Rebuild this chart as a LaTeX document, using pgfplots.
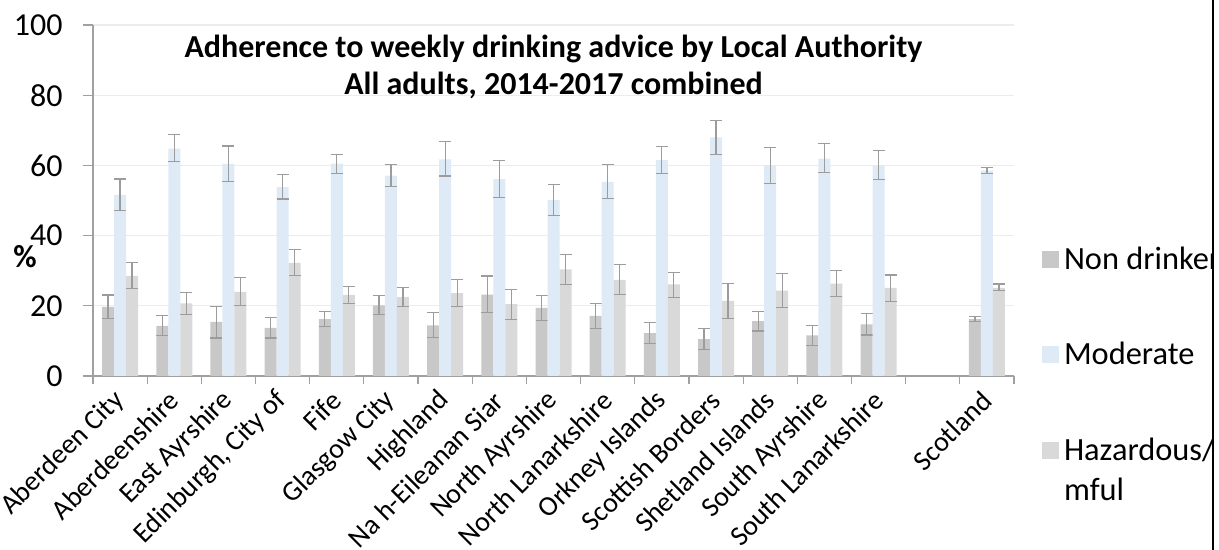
\documentclass[border=0pt]{standalone}
\usepackage{fontspec}
\setmainfont{Carlito}
\usepackage{pgfplots}
\pgfplotsset{compat=1.18}
\usepackage{pgfplotstable}
\definecolor{ndc}{HTML}{C8C8C8}
\definecolor{modc}{HTML}{DEEAF6}
\definecolor{hazc}{HTML}{D9D9D9}
\definecolor{errc}{HTML}{9C9C9C}
\definecolor{axc}{HTML}{A0A0A0}
\definecolor{gridc}{HTML}{ECECEC}

\pgfplotstableread{
x y ep em
0 19.7 3.4 3.3
1 14.3 3.0 2.7
2 15.4 4.5 4.6
3 13.7 3.0 2.9
4 16.2 2.2 2.0
5 20.1 2.8 2.5
6 14.4 3.7 3.5
7 23.2 5.3 5.1
8 19.4 3.5 3.5
9 17.1 3.6 3.5
10 12.2 3.1 2.9
11 10.5 3.1 2.9
12 15.6 2.8 2.8
13 11.6 2.8 2.9
14 14.7 3.1 3.0
16 16.2 0.7 0.6
}\nd

\pgfplotstableread{
x y ep em
0 51.6 4.5 4.4
1 64.8 4.0 3.8
2 60.4 5.1 4.9
3 53.8 3.6 3.4
4 60.5 2.7 2.7
5 57.1 3.2 3.1
6 61.7 5.0 4.7
7 56.1 5.4 5.2
8 50.1 4.4 4.3
9 55.3 4.9 4.7
10 61.5 3.9 3.7
11 68.0 4.9 5.0
12 60.0 5.2 5.1
13 61.9 4.3 4.0
14 60.0 4.3 4.0
16 58.5 1.0 0.9
}\modt

\pgfplotstableread{
x y ep em
0 28.5 3.8 3.6
1 20.7 3.1 3.1
2 24.0 4.1 3.9
3 32.2 3.8 3.6
4 23.1 2.3 2.4
5 22.5 2.8 2.7
6 23.6 3.8 3.8
7 20.5 4.2 4.3
8 30.4 4.3 4.3
9 27.4 4.3 4.1
10 26.1 3.4 3.7
11 21.4 4.9 5.0
12 24.3 4.8 4.7
13 26.3 3.7 3.6
14 25.1 3.7 3.8
16 25.1 1.1 0.8
}\haz

\begin{document}
\begin{tikzpicture}
\begin{scope}
\clip (0,0) rectangle (606.5pt,275pt);
\begin{axis}[
  at={(46.5pt,87pt)}, anchor=south west,
  scale only axis, width=460.5pt, height=175.5pt,
  xmin=-0.5, xmax=16.5, ymin=0, ymax=100,
  clip=false,
  ybar, bar width=6pt,
  axis x line*=bottom, axis y line*=left,
  axis line style={draw=axc, line width=0.6pt},
  ytick={0,20,...,100},
  ymajorgrids, grid style={draw=gridc, line width=0.6pt},
  tick align=outside,
  major tick length=5pt, minor tick length=4pt,
  ytick style={draw=axc, line width=0.6pt},
  xtick={0,...,14,16},
  xticklabels={Aberdeen City, Aberdeenshire, East Ayrshire, {Edinburgh, City of}, Fife, Glasgow City, Highland, Na h-Eileanan Siar, North Ayrshire, North Lanarkshire, Orkney Islands, Scottish Borders, Shetland Islands, South Ayrshire, South Lanarkshire, Scotland},
  major x tick style={draw=none},
  minor xtick={-0.5,0.5,...,16.5},
  minor x tick style={draw=axc, line width=0.6pt},
  /pgf/number format/assume math mode=true,
  yticklabel style={font=\fontsize{16}{18}\selectfont, anchor=east, inner sep=0pt},
  yticklabel shift=10pt,
  xticklabel style={font=\fontsize{14}{16}\selectfont, rotate=45, anchor=east, inner sep=0pt},
  xticklabel shift=5pt,
  legend image code/.code={\fill[#1] (0pt,-4.25pt) rectangle (8.5pt,4.25pt);},
  legend style={at={(1.030,0.370)}, anchor=north west, draw=none, fill=none, inner sep=0pt,
    font=\fontsize{16.2}{18}\selectfont, row sep=35pt,
    nodes={inner ysep=0pt, inner xsep=2.5pt}},
  legend cell align=left,
]
\addplot[fill=ndc, draw=none, bar shift=-6pt,
  error bars/.cd, y dir=both, y explicit, error mark=-,
  error bar style={draw=errc, line width=0.6pt},
  error mark options={draw=errc, line width=0.6pt, mark size=3pt, rotate=90}]
  table[x=x, y=y, y error plus=ep, y error minus=em]{\nd};
\addplot[fill=modc, draw=none, bar shift=0pt,
  error bars/.cd, y dir=both, y explicit, error mark=-,
  error bar style={draw=errc, line width=0.6pt},
  error mark options={draw=errc, line width=0.6pt, mark size=3pt, rotate=90}]
  table[x=x, y=y, y error plus=ep, y error minus=em]{\modt};
\addplot[fill=hazc, draw=none, bar shift=6pt,
  error bars/.cd, y dir=both, y explicit, error mark=-,
  error bar style={draw=errc, line width=0.6pt},
  error mark options={draw=errc, line width=0.6pt, mark size=3pt, rotate=90}]
  table[x=x, y=y, y error plus=ep, y error minus=em]{\haz};
\legend{Non drinker, Moderate, \rlap{\raisebox{-20pt}[0pt][0pt]{mful}}Hazardous/har}
\node[anchor=base, font=\bfseries\fontsize{16}{18}\selectfont] at (rel axis cs:0.5,0.906) {Adherence to weekly drinking advice by Local Authority};
\node[anchor=base, font=\bfseries\fontsize{16}{18}\selectfont] at (rel axis cs:0.5,0.8006) {All adults, 2014-2017 combined};
\node[font=\bfseries\fontsize{16}{18}\selectfont] at (rel axis cs:-0.0738,0.339) {\%};
\end{axis}
\end{scope}
\draw[black, line width=0.8pt] (606.5pt,0pt) -- (606.5pt,275pt);
\pgfresetboundingbox
\useasboundingbox (0,0) rectangle (609.5pt,275pt);
\end{tikzpicture}
\end{document}
